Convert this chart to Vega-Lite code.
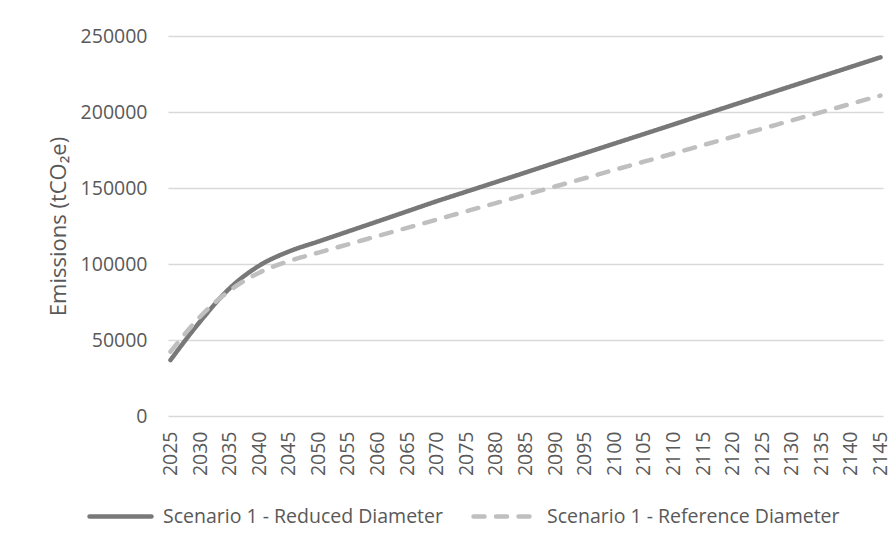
{
  "$schema": "https://vega.github.io/schema/vega-lite/v6.json",
  "width": 715,
  "height": 380,
  "autosize": {"type": "none"},
  "padding": {"left": 168, "top": 36, "right": 12, "bottom": 125},
  "background": "white",
  "config": {
    "view": {"stroke": null},
    "font": "Open Sans",
    "axis": {"labelFont": "Open Sans", "titleFont": "Open Sans", "labelColor": "#595959", "titleColor": "#595959"},
    "legend": {"labelFont": "Open Sans", "labelColor": "#595959"}
  },
  "data": {
    "values": [
      {"year": 2025, "series": "Scenario 1 - Reduced Diameter", "emissions": 36800},
      {"year": 2030, "series": "Scenario 1 - Reduced Diameter", "emissions": 62100},
      {"year": 2035, "series": "Scenario 1 - Reduced Diameter", "emissions": 84000},
      {"year": 2040, "series": "Scenario 1 - Reduced Diameter", "emissions": 98900},
      {"year": 2045, "series": "Scenario 1 - Reduced Diameter", "emissions": 108200},
      {"year": 2050, "series": "Scenario 1 - Reduced Diameter", "emissions": 114800},
      {"year": 2055, "series": "Scenario 1 - Reduced Diameter", "emissions": 121400},
      {"year": 2060, "series": "Scenario 1 - Reduced Diameter", "emissions": 128000},
      {"year": 2065, "series": "Scenario 1 - Reduced Diameter", "emissions": 134650},
      {"year": 2070, "series": "Scenario 1 - Reduced Diameter", "emissions": 141300},
      {"year": 2075, "series": "Scenario 1 - Reduced Diameter", "emissions": 147600},
      {"year": 2080, "series": "Scenario 1 - Reduced Diameter", "emissions": 153900},
      {"year": 2085, "series": "Scenario 1 - Reduced Diameter", "emissions": 160200},
      {"year": 2090, "series": "Scenario 1 - Reduced Diameter", "emissions": 166600},
      {"year": 2095, "series": "Scenario 1 - Reduced Diameter", "emissions": 172900},
      {"year": 2100, "series": "Scenario 1 - Reduced Diameter", "emissions": 179200},
      {"year": 2105, "series": "Scenario 1 - Reduced Diameter", "emissions": 185500},
      {"year": 2110, "series": "Scenario 1 - Reduced Diameter", "emissions": 191800},
      {"year": 2115, "series": "Scenario 1 - Reduced Diameter", "emissions": 198200},
      {"year": 2120, "series": "Scenario 1 - Reduced Diameter", "emissions": 204500},
      {"year": 2125, "series": "Scenario 1 - Reduced Diameter", "emissions": 210800},
      {"year": 2130, "series": "Scenario 1 - Reduced Diameter", "emissions": 217100},
      {"year": 2135, "series": "Scenario 1 - Reduced Diameter", "emissions": 223400},
      {"year": 2140, "series": "Scenario 1 - Reduced Diameter", "emissions": 229700},
      {"year": 2145, "series": "Scenario 1 - Reduced Diameter", "emissions": 236000},
      {"year": 2025, "series": "Scenario 1 - Reference Diameter", "emissions": 42300},
      {"year": 2030, "series": "Scenario 1 - Reference Diameter", "emissions": 65300},
      {"year": 2035, "series": "Scenario 1 - Reference Diameter", "emissions": 82500},
      {"year": 2040, "series": "Scenario 1 - Reference Diameter", "emissions": 94300},
      {"year": 2045, "series": "Scenario 1 - Reference Diameter", "emissions": 101900},
      {"year": 2050, "series": "Scenario 1 - Reference Diameter", "emissions": 107500},
      {"year": 2055, "series": "Scenario 1 - Reference Diameter", "emissions": 112900},
      {"year": 2060, "series": "Scenario 1 - Reference Diameter", "emissions": 118400},
      {"year": 2065, "series": "Scenario 1 - Reference Diameter", "emissions": 123800},
      {"year": 2070, "series": "Scenario 1 - Reference Diameter", "emissions": 129200},
      {"year": 2075, "series": "Scenario 1 - Reference Diameter", "emissions": 134700},
      {"year": 2080, "series": "Scenario 1 - Reference Diameter", "emissions": 140100},
      {"year": 2085, "series": "Scenario 1 - Reference Diameter", "emissions": 145500},
      {"year": 2090, "series": "Scenario 1 - Reference Diameter", "emissions": 151000},
      {"year": 2095, "series": "Scenario 1 - Reference Diameter", "emissions": 156400},
      {"year": 2100, "series": "Scenario 1 - Reference Diameter", "emissions": 161900},
      {"year": 2105, "series": "Scenario 1 - Reference Diameter", "emissions": 167300},
      {"year": 2110, "series": "Scenario 1 - Reference Diameter", "emissions": 172700},
      {"year": 2115, "series": "Scenario 1 - Reference Diameter", "emissions": 178200},
      {"year": 2120, "series": "Scenario 1 - Reference Diameter", "emissions": 183600},
      {"year": 2125, "series": "Scenario 1 - Reference Diameter", "emissions": 189000},
      {"year": 2130, "series": "Scenario 1 - Reference Diameter", "emissions": 194500},
      {"year": 2135, "series": "Scenario 1 - Reference Diameter", "emissions": 199900},
      {"year": 2140, "series": "Scenario 1 - Reference Diameter", "emissions": 205400},
      {"year": 2145, "series": "Scenario 1 - Reference Diameter", "emissions": 210800}
    ]
  },
  "mark": {"type": "line", "interpolate": "monotone", "strokeWidth": 4.5, "strokeCap": "round"},
  "encoding": {
    "x": {
      "field": "year",
      "type": "quantitative",
      "scale": {"domain": [2024.58, 2145.42], "nice": false, "zero": false},
      "axis": {
        "title": null,
        "values": [2025, 2030, 2035, 2040, 2045, 2050, 2055, 2060, 2065, 2070, 2075, 2080, 2085, 2090, 2095, 2100, 2105, 2110, 2115, 2120, 2125, 2130, 2135, 2140, 2145],
        "format": "d",
        "labelAngle": -90,
        "labelFontSize": 19.5,
        "labelPadding": 15,
        "ticks": false,
        "domain": false,
        "grid": false,
        "labelOverlap": false
      }
    },
    "y": {
      "field": "emissions",
      "type": "quantitative",
      "scale": {"domain": [0, 250000], "nice": false},
      "axis": {
        "title": "Emissions (tCO₂e)",
        "titleFontSize": 22,
        "titleFontWeight": "normal",
        "titlePadding": 10,
        "values": [0, 50000, 100000, 150000, 200000, 250000],
        "format": "d",
        "labelFontSize": 19.5,
        "labelPadding": 21,
        "ticks": false,
        "domain": false,
        "grid": true,
        "gridColor": "#d9d9d9",
        "gridWidth": 1.3
      }
    },
    "color": {
      "field": "series",
      "type": "nominal",
      "scale": {
        "domain": ["Scenario 1 - Reduced Diameter", "Scenario 1 - Reference Diameter"],
        "range": ["#787878", "#bfbfbf"]
      },
      "legend": {
        "title": null,
        "orient": "none",
        "direction": "horizontal",
        "legendX": -81,
        "legendY": 447,
        "symbolType": "stroke",
        "symbolSize": 3844,
        "symbolStrokeWidth": 4.5,
        "labelFontSize": 19.5,
        "labelOffset": 9,
        "labelLimit": 500,
        "columnPadding": 21,
        "padding": 0,
        "encode": {"symbols": {"update": {"strokeCap": {"value": "round"}}}}
      }
    },
    "strokeDash": {
      "field": "series",
      "type": "nominal",
      "scale": {
        "domain": ["Scenario 1 - Reduced Diameter", "Scenario 1 - Reference Diameter"],
        "range": [[1, 0], [11, 11.5]]
      },
      "legend": null
    }
  }
}
